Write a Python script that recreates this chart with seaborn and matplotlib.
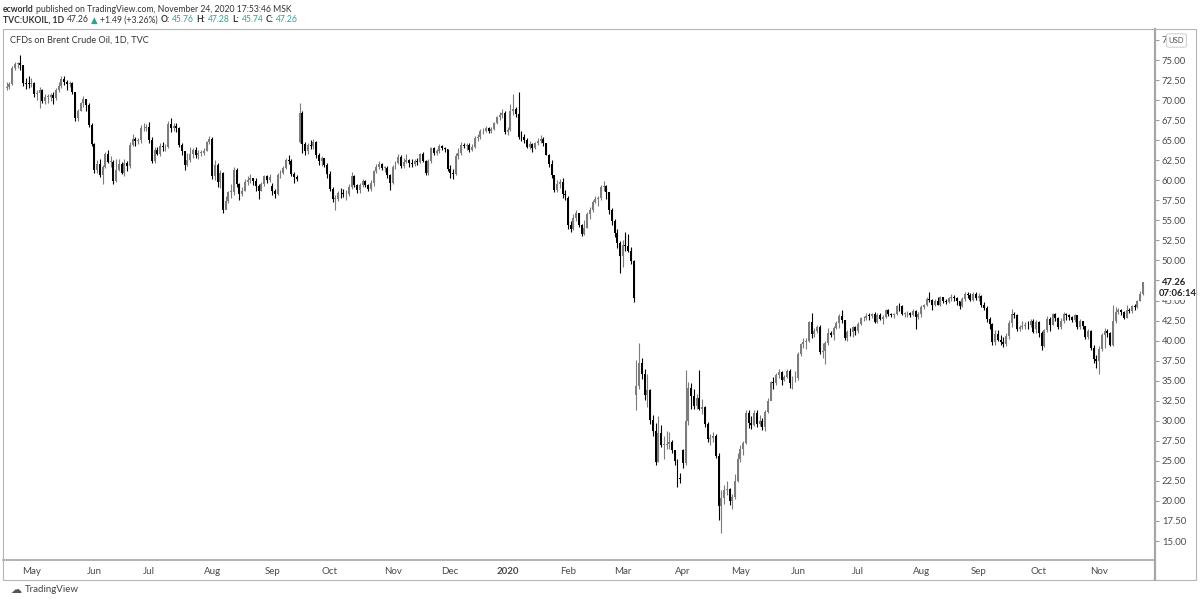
import numpy as np
import pandas as pd
import seaborn as sns
import matplotlib.pyplot as plt
from matplotlib.patches import FancyBboxPatch

sns.set_style('white')
plt.rcParams['font.family'] = ['Lato', 'DejaVu Sans']

# Daily OHLC of TVC:UKOIL, one line per month (Apr 2019 .. Nov 2020)
opens = [
    71.50, 71.62, 72.00, 74.04, 74.51, 74.57, 74.35, 72.15, 72.04,
    72.00, 72.18, 70.75, 70.85, 71.24, 69.88, 70.37, 70.39, 70.62, 70.23, 71.24, 71.77, 72.62, 72.21, 71.97, 72.18, 70.99, 67.76, 68.69, 69.60, 70.11, 69.45, 66.87,
    64.49, 61.28, 61.97, 60.63, 61.67, 63.29, 62.29, 62.30, 59.97, 61.31, 62.01, 60.94, 62.14, 61.82, 64.45, 65.20, 64.86, 65.05, 66.49, 66.55,
    66.60, 65.06, 62.40, 63.82, 63.30, 64.23, 64.11, 64.16, 67.01, 66.52, 66.72, 66.48, 64.35, 63.66, 61.93, 62.47, 63.26, 63.83, 63.18, 63.39, 63.46, 63.71, 64.72,
    65.17, 60.50, 61.89, 59.81, 60.94, 56.23, 57.38, 58.53, 58.57, 61.30, 59.48, 58.23, 58.64, 59.74, 60.03, 60.30, 59.92, 59.34, 58.70, 59.51, 60.49, 60.08,
    59.25, 58.66, 58.26, 60.70, 60.95, 61.54, 62.59, 62.38, 60.81, 60.38, 64.80, 68.40, 64.55, 63.60, 64.40, 64.28, 64.77, 63.10, 62.39, 62.74, 61.91,
    60.78, 58.89, 57.69, 57.71, 58.37, 58.35, 58.24, 58.32, 59.10, 60.51, 59.35, 58.74, 59.42, 59.91, 59.42, 58.96, 59.70, 61.17, 61.67, 62.02, 61.57, 61.59, 60.61,
    59.60, 61.69, 62.13, 62.96, 61.74, 62.29, 62.51, 62.18, 62.06, 62.37, 62.28, 63.30, 62.44, 60.91, 62.40, 63.97, 63.39, 63.65, 64.27, 64.06, 63.87,
    61.40, 60.92, 60.82, 63.00, 63.39, 64.39, 64.25, 64.34, 63.72, 64.20, 65.22, 65.34, 66.10, 66.17, 66.54, 66.14, 66.39, 67.20, 67.92, 68.16, 68.44,
    66.00, 66.25, 68.60, 68.91, 68.27, 65.44, 65.37, 64.98, 64.20, 64.49, 64.00, 64.62, 64.85, 65.20, 64.59, 63.21, 62.04, 60.69, 58.84, 59.51, 59.81, 58.29,
    57.80, 54.45, 53.96, 55.28, 55.93, 54.47, 53.27, 54.01, 55.79, 56.34, 57.32, 57.67, 57.75, 59.12, 59.31, 58.50, 56.30, 54.95, 53.43, 52.18,
    50.52, 51.90, 51.86, 51.13, 49.99, 33.20, 34.36, 37.22, 35.79, 33.22, 33.85, 30.05, 28.73, 24.88, 28.47, 26.98, 27.03, 27.15, 27.39, 26.34, 24.93, 22.76,
    26.30, 24.74, 29.94, 34.11, 33.05, 31.87, 32.84, 31.48, 31.74, 29.60, 27.69, 27.82, 28.08, 25.57, 19.33, 20.37, 21.33, 21.44, 19.99, 20.46, 22.54,
    25.27, 26.44, 27.20, 30.97, 29.72, 29.46, 30.97, 29.63, 29.98, 29.19, 31.13, 32.50, 34.81, 34.65, 35.75, 36.06, 35.13, 35.50, 36.17, 34.74, 35.29,
    35.33, 38.32, 39.57, 39.79, 39.99, 42.30, 40.80, 41.18, 41.73, 38.55, 38.73, 39.72, 40.96, 40.71, 41.51, 42.19, 43.08, 42.63, 40.31, 41.05, 41.02, 41.71,
    41.15, 42.03, 42.80, 42.80, 43.10, 43.08, 43.29, 42.35, 43.24, 42.72, 42.90, 43.79, 43.37, 43.14, 43.28, 44.32, 44.29, 43.31, 43.34, 43.41, 43.22, 43.75, 42.94,
    43.30, 44.15, 44.43, 45.17, 45.09, 44.40, 44.99, 44.50, 45.43, 44.96, 44.80, 45.37, 45.46, 45.37, 44.90, 44.35, 45.13, 45.86, 45.64, 45.09, 45.81,
    45.28, 45.58, 44.43, 44.07, 42.66, 42.01, 39.78, 40.79, 40.06, 39.83, 39.61, 40.53, 42.22, 43.30, 43.15, 41.44, 41.72, 41.77, 41.94, 41.92, 42.43, 41.50,
    42.30, 40.93, 39.27, 41.29, 42.65, 41.99, 43.34, 42.85, 41.72, 42.45, 43.32, 43.16, 42.93, 42.62, 43.16, 41.73, 42.46, 41.77, 40.46, 41.20, 39.12, 37.65,
    37.46, 38.97, 40.71, 41.23, 40.93, 39.45, 42.40, 43.61, 43.80, 43.53, 42.78, 43.82, 43.75, 44.34, 44.20, 44.96, 45.76,
]
highs = [
    72.30, 72.30, 74.30, 74.70, 74.80, 75.60, 74.40, 72.80, 73.00,
    72.70, 72.30, 71.20, 71.60, 71.40, 70.70, 70.80, 70.90, 71.00, 71.50, 72.20, 73.00, 73.00, 72.50, 72.40, 72.20, 71.00, 68.90, 69.80, 70.50, 70.20, 69.60, 67.10,
    64.70, 62.50, 62.70, 61.90, 63.50, 63.80, 63.00, 62.50, 62.60, 62.60, 62.30, 62.60, 62.40, 64.80, 65.80, 65.40, 65.30, 66.90, 67.10, 67.00,
    67.30, 65.40, 64.10, 64.10, 64.60, 64.80, 64.50, 67.40, 67.80, 67.10, 67.10, 66.70, 64.60, 63.70, 63.40, 64.10, 64.00, 64.20, 63.80, 63.80, 64.00, 64.90, 65.50,
    65.40, 62.50, 62.10, 61.30, 61.00, 58.00, 58.70, 59.50, 61.60, 61.50, 59.60, 59.10, 60.20, 60.50, 60.80, 60.30, 60.30, 59.50, 59.80, 60.70, 60.60, 60.80,
    59.60, 58.90, 60.90, 61.30, 61.80, 62.80, 63.20, 62.60, 61.00, 60.70, 69.60, 68.60, 64.80, 64.60, 65.00, 65.20, 64.90, 63.40, 63.00, 62.80, 62.10,
    61.10, 59.20, 58.20, 58.70, 59.00, 58.90, 58.80, 59.50, 61.00, 60.60, 59.50, 59.60, 60.20, 60.00, 59.50, 60.00, 61.30, 62.00, 62.40, 62.20, 61.80, 61.80, 60.80,
    61.90, 62.40, 63.30, 63.10, 62.80, 63.30, 62.70, 62.60, 62.60, 62.80, 63.40, 63.50, 62.50, 62.70, 64.20, 64.10, 63.90, 64.50, 64.40, 64.10, 63.90,
    61.90, 61.40, 63.40, 64.00, 64.80, 64.60, 64.60, 64.60, 64.50, 65.50, 65.80, 66.40, 66.50, 66.80, 66.60, 66.60, 67.30, 68.00, 68.50, 68.90, 68.60,
    66.70, 69.50, 70.70, 69.20, 71.00, 66.10, 65.80, 65.30, 64.90, 64.60, 64.80, 65.30, 65.70, 65.40, 64.70, 63.30, 62.50, 60.70, 60.00, 60.10, 60.30, 58.80,
    58.00, 54.90, 55.80, 56.30, 55.90, 54.60, 55.00, 56.00, 56.70, 57.50, 58.00, 58.00, 59.40, 59.90, 59.40, 58.50, 56.60, 55.20, 53.90, 52.40,
    52.50, 53.50, 53.30, 51.70, 50.10, 37.60, 39.70, 37.80, 36.40, 35.80, 34.00, 30.70, 29.70, 30.60, 29.50, 28.10, 28.70, 28.60, 27.60, 26.40, 25.20, 23.50,
    26.50, 36.30, 34.80, 34.70, 33.90, 33.30, 36.30, 32.70, 31.90, 29.90, 28.40, 28.60, 28.30, 26.00, 21.40, 22.00, 22.50, 21.60, 20.90, 23.40, 26.00,
    27.00, 27.50, 31.30, 31.40, 30.60, 31.30, 31.30, 30.70, 30.40, 31.40, 32.80, 35.00, 35.50, 36.00, 36.40, 36.20, 35.70, 36.40, 36.40, 35.60, 36.20,
    38.60, 39.70, 40.30, 40.30, 42.50, 43.40, 41.60, 42.00, 41.90, 39.70, 40.00, 41.60, 41.20, 41.80, 42.40, 43.30, 43.80, 42.60, 41.30, 41.60, 41.80, 41.80,
    42.30, 43.00, 43.10, 43.40, 43.40, 43.50, 43.60, 43.40, 43.40, 43.20, 43.90, 43.90, 43.50, 43.50, 44.50, 44.70, 44.40, 43.60, 43.70, 43.60, 43.90, 43.80, 43.60,
    44.50, 44.60, 45.50, 46.00, 45.20, 45.20, 45.40, 45.60, 45.50, 45.20, 45.50, 45.80, 45.70, 45.40, 45.00, 45.50, 46.10, 46.00, 45.90, 46.00, 46.00,
    45.90, 45.70, 44.80, 44.30, 42.90, 42.20, 41.30, 41.30, 40.70, 40.40, 41.00, 42.60, 43.90, 43.60, 43.30, 42.00, 42.40, 42.30, 42.40, 42.70, 42.70, 42.60,
    42.40, 41.20, 41.50, 43.10, 42.90, 43.50, 43.50, 43.00, 42.80, 43.60, 43.50, 43.30, 43.10, 43.30, 43.20, 42.70, 42.50, 41.80, 41.40, 41.30, 39.40, 38.20,
    39.30, 40.90, 41.60, 41.50, 41.10, 44.50, 44.20, 44.10, 44.00, 43.70, 44.40, 44.10, 44.50, 44.60, 45.10, 46.20, 47.28,
]
lows = [
    71.20, 71.40, 71.90, 73.70, 74.00, 73.80, 71.70, 71.40, 71.50,
    71.60, 70.40, 70.00, 69.00, 69.60, 69.50, 69.70, 69.90, 69.50, 70.00, 71.00, 71.50, 71.90, 71.30, 71.60, 70.80, 67.40, 67.40, 68.60, 69.20, 68.70, 66.60, 64.30,
    60.90, 60.90, 60.40, 59.50, 61.50, 62.10, 61.60, 59.50, 59.80, 61.10, 60.80, 60.50, 61.20, 61.50, 64.30, 64.30, 64.50, 64.60, 66.10, 66.20,
    64.60, 62.20, 62.20, 63.10, 63.00, 63.70, 63.60, 64.00, 66.00, 66.20, 66.00, 64.10, 63.20, 61.30, 61.80, 62.30, 62.80, 62.80, 62.70, 63.00, 63.20, 63.60, 64.50,
    60.10, 60.00, 59.10, 59.00, 55.90, 56.40, 57.20, 57.80, 58.20, 59.20, 57.60, 58.00, 58.60, 59.40, 59.70, 59.40, 58.60, 57.70, 58.60, 59.30, 59.70, 59.80,
    58.20, 57.80, 58.20, 60.30, 60.80, 61.40, 62.00, 60.50, 59.60, 59.90, 64.60, 63.40, 63.10, 63.30, 63.90, 63.90, 62.80, 61.90, 61.80, 61.60, 60.30,
    58.70, 57.30, 56.30, 57.40, 57.80, 57.90, 57.50, 58.00, 58.90, 59.20, 58.40, 58.40, 59.10, 59.10, 58.60, 58.70, 59.30, 60.90, 61.40, 61.30, 61.00, 60.30, 58.80,
    59.50, 61.40, 62.00, 61.50, 61.50, 62.10, 61.70, 61.70, 61.80, 61.90, 62.10, 62.30, 60.70, 60.70, 62.20, 63.10, 63.20, 63.40, 63.80, 63.50, 61.20,
    60.30, 60.10, 60.70, 62.60, 63.10, 64.00, 63.80, 63.50, 63.60, 64.00, 64.90, 65.20, 65.80, 66.00, 65.90, 65.90, 66.30, 67.00, 67.50, 67.80, 65.80,
    65.60, 66.10, 68.20, 67.90, 65.20, 64.90, 64.70, 64.00, 63.90, 63.50, 63.90, 64.40, 64.70, 64.30, 63.10, 61.60, 60.30, 58.50, 58.50, 59.00, 57.80, 57.60,
    53.90, 53.50, 53.80, 54.90, 54.20, 53.10, 53.20, 54.00, 55.20, 56.10, 57.20, 56.80, 57.60, 58.70, 57.70, 55.80, 54.40, 52.90, 51.50, 48.40,
    49.20, 51.20, 51.00, 49.60, 44.80, 31.30, 34.00, 35.20, 32.60, 31.70, 29.60, 28.10, 24.50, 24.80, 26.70, 25.20, 26.50, 26.50, 26.00, 24.50, 21.70, 22.20,
    24.10, 24.50, 29.50, 31.50, 31.50, 31.50, 31.30, 30.80, 29.20, 27.30, 27.00, 27.40, 25.40, 17.60, 15.98, 19.60, 20.80, 19.50, 19.00, 20.30, 22.30,
    24.80, 25.70, 27.10, 29.10, 29.00, 29.30, 29.20, 29.30, 28.80, 28.70, 31.00, 32.60, 33.90, 34.50, 35.30, 34.40, 35.00, 35.30, 34.10, 33.90, 34.80,
    35.10, 38.10, 39.10, 38.90, 39.80, 40.30, 40.50, 40.90, 38.30, 37.80, 37.10, 39.50, 40.40, 40.10, 41.40, 41.60, 42.20, 40.10, 40.00, 40.60, 40.40, 40.70,
    40.90, 41.90, 42.50, 42.60, 42.60, 42.80, 42.20, 42.20, 42.60, 42.10, 42.80, 43.10, 42.90, 42.80, 43.20, 43.70, 43.20, 43.00, 42.90, 42.90, 43.10, 41.50, 42.70,
    43.00, 43.90, 44.30, 44.80, 43.80, 44.30, 44.40, 44.30, 44.70, 44.60, 44.70, 45.00, 45.00, 44.40, 44.00, 44.20, 45.00, 45.30, 44.90, 45.00, 45.10,
    45.00, 44.20, 43.80, 42.30, 41.50, 39.40, 39.50, 39.90, 39.50, 39.20, 39.30, 40.20, 41.70, 42.80, 41.20, 41.20, 41.40, 41.40, 41.50, 41.70, 40.90, 40.90,
    40.50, 38.80, 39.20, 41.10, 41.20, 41.90, 42.50, 41.40, 41.50, 42.20, 42.60, 42.60, 42.30, 42.30, 41.40, 41.40, 41.40, 40.20, 40.20, 38.80, 37.20, 36.60,
    35.80, 38.70, 39.10, 40.50, 39.30, 39.30, 42.20, 43.30, 43.20, 42.70, 42.80, 43.40, 43.50, 43.80, 44.10, 44.90, 45.74,
]
closes = [
    71.62, 71.97, 74.04, 74.51, 74.57, 74.35, 72.15, 72.04, 72.00,
    72.18, 70.75, 70.85, 71.24, 69.88, 70.37, 70.39, 70.62, 70.23, 71.24, 71.77, 72.62, 72.21, 71.97, 72.18, 70.99, 67.76, 68.69, 69.60, 70.11, 69.45, 66.87, 64.49,
    61.28, 61.97, 60.63, 61.67, 63.29, 62.29, 62.30, 59.97, 61.31, 62.01, 60.94, 62.14, 61.82, 64.45, 65.20, 64.86, 65.05, 66.49, 66.55, 66.60,
    65.06, 62.40, 63.82, 63.30, 64.23, 64.11, 64.16, 67.01, 66.52, 66.72, 66.48, 64.35, 63.66, 61.93, 62.47, 63.26, 63.83, 63.18, 63.39, 63.46, 63.71, 64.72, 65.17,
    60.50, 61.89, 59.81, 60.94, 56.23, 57.38, 58.53, 58.57, 61.30, 59.48, 58.23, 58.64, 59.74, 60.03, 60.30, 59.92, 59.34, 58.70, 59.51, 60.49, 60.08, 60.43,
    58.66, 58.26, 60.70, 60.95, 61.54, 62.59, 62.38, 60.81, 60.38, 60.22, 68.40, 64.55, 63.60, 64.40, 64.28, 64.77, 63.10, 62.39, 62.74, 61.91, 60.78,
    58.89, 57.69, 57.71, 58.37, 58.35, 58.24, 58.32, 59.10, 60.51, 59.35, 58.74, 59.42, 59.91, 59.42, 58.96, 59.70, 61.17, 61.67, 62.02, 61.57, 61.59, 60.61, 59.60,
    61.69, 62.13, 62.96, 61.74, 62.29, 62.51, 62.18, 62.06, 62.37, 62.28, 63.30, 62.44, 60.91, 62.40, 63.97, 63.39, 63.65, 64.27, 64.06, 63.87, 61.40,
    60.92, 60.82, 63.00, 63.39, 64.39, 64.25, 64.34, 63.72, 64.20, 65.22, 65.34, 66.10, 66.17, 66.54, 66.14, 66.39, 67.20, 67.92, 68.16, 68.44, 66.00,
    66.25, 68.60, 68.91, 68.27, 65.44, 65.37, 64.98, 64.20, 64.49, 64.00, 64.62, 64.85, 65.20, 64.59, 63.21, 62.04, 60.69, 58.84, 59.51, 59.81, 58.29, 58.16,
    54.45, 53.96, 55.28, 55.93, 54.47, 53.27, 54.01, 55.79, 56.34, 57.32, 57.67, 57.75, 59.12, 59.31, 58.50, 56.30, 54.95, 53.43, 52.18, 50.52,
    51.90, 51.86, 51.13, 49.99, 45.27, 34.36, 37.22, 35.79, 33.22, 33.85, 30.05, 28.73, 24.88, 28.47, 26.98, 27.03, 27.15, 27.39, 26.34, 24.93, 22.76, 22.74,
    24.74, 29.94, 34.11, 33.05, 31.87, 32.84, 31.48, 31.74, 29.60, 27.69, 27.82, 28.08, 25.57, 19.33, 20.37, 21.33, 21.44, 19.99, 20.46, 22.54, 25.27,
    26.44, 27.20, 30.97, 29.72, 29.46, 30.97, 29.63, 29.98, 29.19, 31.13, 32.50, 34.81, 34.65, 35.75, 36.06, 35.13, 35.50, 36.17, 34.74, 35.29, 35.33,
    38.32, 39.57, 39.79, 39.99, 42.30, 40.80, 41.18, 41.73, 38.55, 38.73, 39.72, 40.96, 40.71, 41.51, 42.19, 43.08, 42.63, 40.31, 41.05, 41.02, 41.71, 41.15,
    42.03, 42.80, 42.80, 43.10, 43.08, 43.29, 42.35, 43.24, 42.72, 42.90, 43.79, 43.37, 43.14, 43.28, 44.32, 44.29, 43.31, 43.34, 43.41, 43.22, 43.75, 42.94, 43.30,
    44.15, 44.43, 45.17, 45.09, 44.40, 44.99, 44.50, 45.43, 44.96, 44.80, 45.37, 45.46, 45.37, 44.90, 44.35, 45.13, 45.86, 45.64, 45.09, 45.81, 45.28,
    45.58, 44.43, 44.07, 42.66, 42.01, 39.78, 40.79, 40.06, 39.83, 39.61, 40.53, 42.22, 43.30, 43.15, 41.44, 41.72, 41.77, 41.94, 41.92, 42.43, 41.03, 42.30,
    40.93, 39.27, 41.29, 42.65, 41.99, 43.34, 42.85, 41.72, 42.45, 43.32, 43.16, 42.93, 42.62, 43.16, 41.73, 42.46, 41.77, 40.46, 41.20, 39.12, 37.65, 37.46,
    38.97, 40.71, 41.23, 40.93, 39.45, 42.40, 43.61, 43.80, 43.53, 42.78, 43.82, 43.75, 44.34, 44.20, 44.96, 45.76, 47.26,
]

price_ticks = [15.0, 17.5, 20.0, 22.5, 25.0, 27.5, 30.0, 32.5, 35.0, 37.5, 40.0, 42.5, 45.0,
               47.5, 50.0, 52.5, 55.0, 57.5, 60.0, 62.5, 65.0, 67.5, 70.0, 72.5, 75.0, 77.5]
holidays = ['2019-04-19', '2019-12-25', '2020-01-01', '2020-04-10']
last_price = 47.26

dates = pd.bdate_range(end='2020-11-24', periods=len(closes), freq='C', holidays=holidays)
df = pd.DataFrame({'date': dates, 'open': opens, 'high': highs, 'low': lows, 'close': closes})
df['x'] = np.arange(len(df))
df['up'] = df['close'] >= df['open']

W, H = 1200, 602
fig = plt.figure(figsize=(W / 100, H / 100), dpi=100)
ax = fig.add_axes([3 / W, 1 - 560 / H, (1155 - 3) / W, (560 - 29) / H])

up_col, dn_col = '#7c7c7c', '#000000'
cols = np.where(df['up'], up_col, dn_col)
ax.vlines(df['x'], df['low'], df['high'], colors=cols, linewidth=0.8, zorder=2)
body_lo = df[['open', 'close']].min(axis=1)
body_h = (df['close'] - df['open']).abs().clip(lower=0.08)
ax.bar(df['x'], body_h, bottom=body_lo, width=0.72, color=cols, linewidth=0, zorder=3)

ax.set_xlim(-1.35, 419.4)
ax.set_ylim(12.63, 78.87)

# month ticks on the first trading day of each month
first_days = df.groupby(df['date'].dt.to_period('M'))['x'].min()
month_x = first_days.values[1:]
month_lab = [p.strftime('%b') if p.month != 1 else str(p.year) for p in first_days.index][1:]
ax.set_xticks(month_x)
ax.set_xticklabels(month_lab)
for t, lab in zip(ax.get_xticklabels(), month_lab):
    if lab.isdigit():
        t.set_fontweight('bold')

ax.yaxis.tick_right()
ax.set_yticks(price_ticks)
ax.set_yticklabels([f'{v:.2f}' for v in price_ticks])
ax.tick_params(axis='y', length=3, width=0.8, color='#9a9a9a', labelsize=6.8,
               labelcolor='#4a4a4a', pad=2)
ax.tick_params(axis='x', length=0, labelsize=7, labelcolor='#4a4a4a', pad=5)

for side in ['top', 'left']:
    ax.spines[side].set_visible(False)
ax.spines['right'].set_color('#a6a6a6')
ax.spines['right'].set_linewidth(1.6)
ax.spines['bottom'].set_color('#a6a6a6')
ax.spines['bottom'].set_linewidth(1.2)
ax.grid(False)

# last price label and countdown on the price scale
ax.text(1.006, last_price, '47.26', transform=ax.get_yaxis_transform(), fontsize=6.8,
        fontweight='bold', color='#222222', va='center', ha='left', clip_on=False, zorder=10,
        bbox=dict(boxstyle='square,pad=0.15', fc='white', ec='none'))
ax.text(1.003, last_price - 1.35, '07:06:14', transform=ax.get_yaxis_transform(), fontsize=6.8,
        fontweight='bold', color='#222222', va='center', ha='left', clip_on=False, zorder=10,
        bbox=dict(boxstyle='square,pad=0.2', fc='white', ec='none'))

# pane frame
frame = plt.Rectangle((3 / W, 1 - 580 / H), (1196 - 3) / W, (580 - 29) / H, transform=fig.transFigure,
                      fill=False, ec='#b5b5b5', lw=0.8)
fig.add_artist(frame)
fig.add_artist(plt.Line2D([1155 / W, 1155 / W], [1 - 580 / H, 1 - 560 / H], color='#a6a6a6', lw=1.6))

# USD badge over the top price label
badge = FancyBboxPatch((1169 / W, 1 - 46 / H), 15 / W, 11 / H, boxstyle='round,pad=0.002',
                       transform=fig.transFigure, fc='white', ec='#cccccc', lw=0.7, zorder=20)
fig.add_artist(badge)
fig.text(1176.5 / W, 1 - 40.5 / H, 'USD', fontsize=5.5, color='#555555', ha='center', va='center', zorder=21)

# header lines, laid out piece by piece
renderer = fig.canvas.get_renderer()
teal = '#2fa394'
dark = '#333333'


def write_line(x, y, parts, size=6.2, gap=2.5):
    for s, color, weight in parts:
        t = fig.text(x / W, 1 - y / H, s, color=color, fontweight=weight, fontsize=size,
                     ha='left', va='center')
        x += t.get_window_extent(renderer=renderer).width + gap


write_line(3, 9, [('ecworld', dark, 'bold'),
                  ('published on TradingView.com, November 24, 2020 17:53:46 MSK', dark, 'normal')])
write_line(3, 20, [('TVC:UKOIL, 1D', dark, 'bold'), ('47.26', dark, 'normal'),
                   ('\u25b2', teal, 'normal'), ('+1.49 (+3.26%)', dark, 'normal'),
                   ('O:', dark, 'bold'), ('45.76', teal, 'normal'),
                   ('H:', dark, 'bold'), ('47.28', teal, 'normal'),
                   ('L:', dark, 'bold'), ('45.74', teal, 'normal'),
                   ('C:', dark, 'bold'), ('47.26', teal, 'normal')])
fig.text(10 / W, 1 - 40 / H, 'CFDs on Brent Crude Oil, 1D, TVC', fontsize=6.6, color=dark,
         ha='left', va='center')

# footer
fig.text(25 / W, 1 - 590 / H, 'TradingView', fontsize=7, color='#444444', ha='left', va='center')
fig.text(16 / W, 1 - 590 / H, '\u2601', fontsize=8, color='#555555', ha='center', va='center',
         family=['DejaVu Sans'])

fig.savefig('out.png', dpi=100, facecolor='white')
